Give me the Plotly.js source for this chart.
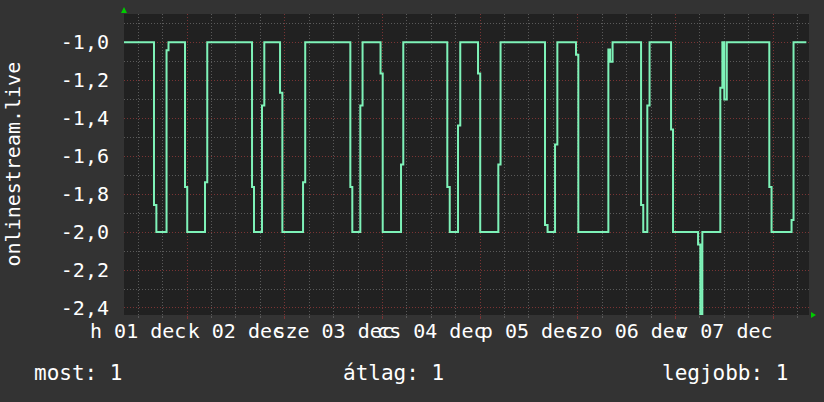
<!DOCTYPE html>
<html>
<head>
<meta charset="utf-8">
<script src="https://cdn.plot.ly/plotly-3.0.1.min.js"></script>
<style>
html,body{margin:0;padding:0;background:#333333;}
#chart{width:824px;height:402px;}
</style>
</head>
<body>
<div id="chart"></div>
<script>
// ---- data ----
const times = [
  '2025-12-01 08:31','2025-12-01 15:53','2025-12-01 16:28','2025-12-01 18:58','2025-12-01 19:27',
  '2025-12-01 23:30','2025-12-02 00:03','2025-12-02 04:25','2025-12-02 04:58','2025-12-02 15:58',
  '2025-12-02 16:27','2025-12-02 18:25','2025-12-02 18:59','2025-12-02 22:51','2025-12-02 23:25',
  '2025-12-03 04:30','2025-12-03 05:02','2025-12-03 16:07','2025-12-03 16:36','2025-12-03 18:34',
  '2025-12-03 19:07','2025-12-03 23:32','2025-12-04 00:04','2025-12-04 04:34','2025-12-04 05:07',
  '2025-12-04 15:56','2025-12-04 16:32','2025-12-04 18:34','2025-12-04 19:07','2025-12-04 23:29',
  '2025-12-05 00:01','2025-12-05 04:28','2025-12-05 05:01','2025-12-05 15:56','2025-12-05 16:34',
  '2025-12-05 18:24','2025-12-05 18:58','2025-12-05 23:33','2025-12-06 00:07','2025-12-06 07:30',
  '2025-12-06 07:55','2025-12-06 08:32','2025-12-06 15:32','2025-12-06 16:04','2025-12-06 17:04',
  '2025-12-06 17:37','2025-12-06 22:54','2025-12-06 23:23','2025-12-07 05:32','2025-12-07 06:05',
  '2025-12-07 06:35','2025-12-07 11:00','2025-12-07 11:30','2025-12-07 11:59','2025-12-07 12:35',
  '2025-12-07 23:02','2025-12-07 23:35','2025-12-08 04:30','2025-12-08 04:59','2025-12-08 08:08'
];
const values = [
  -1.0, -1.858, -2.0, -1.042, -1.0,
  -1.763, -2.0, -1.737, -1.0, -1.763,
  -2.0, -1.333, -1.0, -1.266, -2.0,
  -1.737, -1.0, -1.763, -2.0, -1.333,
  -1.0, -1.165, -2.0, -1.644, -1.0,
  -1.763, -2.0, -1.438, -1.0, -1.165,
  -2.0, -1.644, -1.0, -1.963, -2.0,
  -1.538, -1.0, -1.066, -2.0, -1.038,
  -1.103, -1.0, -1.858, -2.0, -1.333,
  -1.0, -1.459, -2.0, -2.065, -2.433,
  -2.0, -1.24, -1.0, -1.302, -1.0,
  -1.763, -2.0, -1.937, -1.0, -1.0
];
const xRange = ['2025-12-01 08:31', '2025-12-08 08:47'];
const yRange = [-2.437, -0.851];
const dayLabelPositions = ['2025-12-01 12:00','2025-12-02 12:00','2025-12-03 12:00','2025-12-04 12:00',
                           '2025-12-05 12:00','2025-12-06 12:00','2025-12-07 12:00'];
const dayLabels = ['h 01 dec','k 02 dec','sze 03 dec','cs 04 dec','p 05 dec','szo 06 dec','v 07 dec'];
const yTickVals = [-2.4, -2.2, -2.0, -1.8, -1.6, -1.4, -1.2, -1.0];
const yTickText = ['-2,4', '-2,2', '-2,0', '-1,8', '-1,6', '-1,4', '-1,2', '-1,0'];
const yMinorVals = [-2.3, -2.1, -1.9, -1.7, -1.5, -1.3, -1.1, -0.9];
const axisTitle = 'onlinestream.live';
const legendItems = ['most: 1', 'átlag: 1', 'legjobb: 1'];

const FONT = 'DejaVu Sans Mono';
const MAJOR = '#7a3434';
const MINOR = '#5a5a5a';
const DASH = '1px,2px';

const trace = {
  x: times, y: values, type: 'scatter', mode: 'lines',
  line: {color: '#7ef2b8', width: 2, shape: 'hv'},
  hoverinfo: 'skip', showlegend: false
};

const layout = {
  width: 824, height: 402,
  margin: {l: 124, r: 15, t: 14, b: 87, pad: 0},
  paper_bgcolor: '#333333',
  plot_bgcolor: '#212121',
  font: {family: FONT, color: '#ffffff', size: 20},
  showlegend: false,
  xaxis: {
    type: 'date', range: xRange, fixedrange: true,
    tickmode: 'linear', tick0: '2025-12-01 00:00', dtick: 86400000,
    showticklabels: false,
    showgrid: true, gridcolor: MAJOR, griddash: DASH, gridwidth: 1,
    ticks: 'outside', ticklen: 3, tickcolor: MAJOR, tickwidth: 1,
    zeroline: false, showline: false,
    minor: {tickmode: 'linear', tick0: '2025-12-01 00:00', dtick: 21600000,
            showgrid: true, gridcolor: MINOR, griddash: DASH, gridwidth: 1,
            ticks: 'outside', ticklen: 2, tickcolor: MINOR}
  },
  xaxis2: {
    type: 'date', range: xRange, overlaying: 'x', anchor: 'y', side: 'bottom',
    tickmode: 'array', tickvals: dayLabelPositions, ticktext: dayLabels,
    tickangle: 0, showgrid: false, zeroline: false, showline: false,
    ticks: '', ticklabeloverflow: 'allow', ticklabelstandoff: 2,
    tickfont: {family: FONT, size: 20, color: '#ffffff'}
  },
  yaxis: {
    range: yRange, fixedrange: true,
    tickmode: 'array', tickvals: yTickVals, ticktext: yTickText,
    showgrid: true, gridcolor: MAJOR, griddash: DASH, gridwidth: 1,
    zeroline: false, showline: false, ticks: '',
    ticklabelstandoff: 14,
    tickfont: {family: FONT, size: 20, color: '#ffffff'},
    minor: {tickmode: 'array', tickvals: yMinorVals,
            showgrid: true, gridcolor: MINOR, griddash: DASH, gridwidth: 1, ticks: ''}
  },
  annotations: [
    {text: axisTitle, xref: 'paper', yref: 'paper', x: -0.1635, y: 0.5,
     xanchor: 'center', yanchor: 'middle', textangle: -90, showarrow: false,
     font: {family: FONT, size: 20, color: '#ffffff'}},
    {text: legendItems[0], xref: 'paper', yref: 'paper', x: -0.1343, y: -0.1927,
     xanchor: 'left', yanchor: 'middle', showarrow: false,
     font: {family: FONT, size: 21, color: '#ffffff'}},
    {text: legendItems[1], xref: 'paper', yref: 'paper', x: 0.3168, y: -0.1927,
     xanchor: 'left', yanchor: 'middle', showarrow: false,
     font: {family: FONT, size: 21, color: '#ffffff'}},
    {text: legendItems[2], xref: 'paper', yref: 'paper', x: 0.9723, y: -0.1927,
     xanchor: 'right', yanchor: 'middle', showarrow: false,
     font: {family: FONT, size: 21, color: '#ffffff'}}
  ],
  shapes: [
    {type: 'path', xref: 'paper', yref: 'paper', xsizemode: 'pixel', ysizemode: 'pixel',
     xanchor: 0, yanchor: 1, path: 'M -3,1 L 3,1 L 0,7 Z',
     fillcolor: '#00cc00', line: {width: 0}},
    {type: 'path', xref: 'paper', yref: 'paper', xsizemode: 'pixel', ysizemode: 'pixel',
     xanchor: 1, yanchor: 0, path: 'M 2,3 L 2,-3 L 7,0 Z',
     fillcolor: '#00cc00', line: {width: 0}}
  ]
};

const dummy = {x: [], y: [], xaxis: 'x2', yaxis: 'y', type: 'scatter', mode: 'lines',
               showlegend: false, hoverinfo: 'skip'};

Plotly.newPlot('chart', [trace, dummy], layout, {staticPlot: true, displayModeBar: false});
</script>
</body>
</html>
